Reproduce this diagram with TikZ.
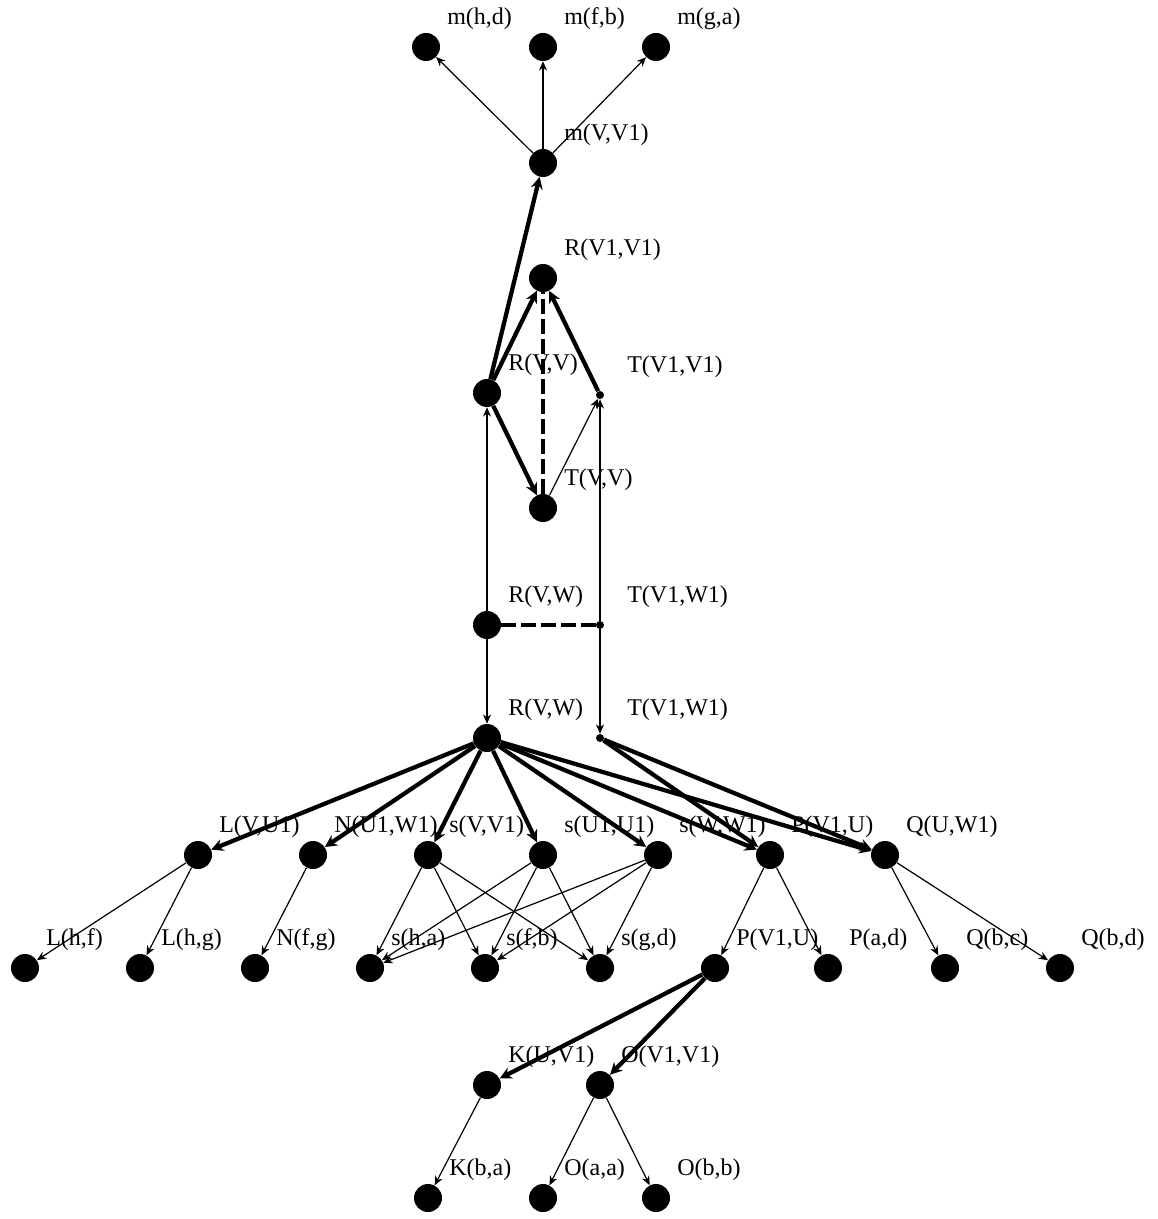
\documentclass[tikz,border=0pt]{standalone}
\usepackage{fontspec}
\setmainfont{Liberation Serif}
\usetikzlibrary{arrows.meta}
\newcommand{\lab}[2]{\node[lbl] (l#1) at ([shift={(21,-28)}]#1.center) {#2};}
\begin{document}
\begin{tikzpicture}[x=0.75pt,y=-0.75pt,
  dot/.style={circle,fill=black,inner sep=0pt,minimum size=21pt},
  pnt/.style={circle,fill=black,inner sep=0pt,minimum size=6pt},
  lbl/.style={anchor=west,inner sep=0pt,font=\fontsize{18}{20}\selectfont},
  tedge/.style={line width=0.9pt,-{Stealth[length=7pt,width=6pt]}},
  bedge/.style={line width=3.2pt,-{Stealth[length=9pt,width=9pt]}},
  dsh/.style={line width=3pt,dash pattern=on 11pt off 4pt}]
\useasboundingbox (0,0) rectangle (1157,1219);
% top
\node[dot] (mhd) at (426,47) {};
\node[dot] (mfb) at (543,47) {};
\node[dot] (mga) at (656,47) {};
\node[dot] (mVV) at (543,163) {};
\node[dot] (RV1) at (543,278) {};
\node[dot] (RVV) at (487,393) {};
\node[pnt] (TV1) at (600,395) {};
\node[dot] (TVV) at (543,508) {};
\node[dot] (RVWu) at (487,625) {};
\node[pnt] (TVWu) at (600,625) {};
\node[dot] (RVWl) at (487,738) {};
\node[pnt] (TVWl) at (600,738) {};
% row 2
\node[dot] (LVU) at (198,855) {};
\node[dot] (NUW) at (313,855) {};
\node[dot] (sVV) at (428,855) {};
\node[dot] (sUU) at (543,855) {};
\node[dot] (sWW) at (658,855) {};
\node[dot] (PVU) at (770,855) {};
\node[dot] (QUW) at (885,855) {};
% row 3
\node[dot] (Lhf) at (25,968) {};
\node[dot] (Lhg) at (140,968) {};
\node[dot] (Nfg) at (255,968) {};
\node[dot] (sha) at (370,968) {};
\node[dot] (sfb) at (485,968) {};
\node[dot] (sgd) at (600,968) {};
\node[dot] (PVUb) at (715,968) {};
\node[dot] (Pad) at (828,968) {};
\node[dot] (Qbc) at (945,968) {};
\node[dot] (Qbd) at (1060,968) {};
% row 4
\node[dot] (KUV) at (487,1085) {};
\node[dot] (OVV) at (600,1085) {};
% row 5
\node[dot] (Kba) at (428,1198) {};
\node[dot] (Oaa) at (543,1198) {};
\node[dot] (Obb) at (656,1198) {};
% labels
\lab{mhd}{m(h,d)}
\lab{mfb}{m(f,b)}
\lab{mga}{m(g,a)}
\lab{mVV}{m(V,V1)}
\lab{RV1}{R(V1,V1)}
\lab{RVV}{R(V,V)}
\node[lbl] (lTV1) at ([shift={(27,-28)}]TV1.center) {T(V1,V1)};
\lab{TVV}{T(V,V)}
\lab{RVWu}{R(V,W)}
\node[lbl] (lTVWu) at ([shift={(27,-28)}]TVWu.center) {T(V1,W1)};
\lab{RVWl}{R(V,W)}
\node[lbl] (lTVWl) at ([shift={(27,-28)}]TVWl.center) {T(V1,W1)};
\lab{LVU}{L(V,U1)}
\lab{NUW}{N(U1,W1)}
\lab{sVV}{s(V,V1)}
\lab{sUU}{s(U1,U1)}
\lab{sWW}{s(W,W1)}
\lab{PVU}{P(V1,U)}
\lab{QUW}{Q(U,W1)}
\lab{Lhf}{L(h,f)}
\lab{Lhg}{L(h,g)}
\lab{Nfg}{N(f,g)}
\lab{sha}{s(h,a)}
\lab{sfb}{s(f,b)}
\lab{sgd}{s(g,d)}
\lab{PVUb}{P(V1,U)}
\lab{Pad}{P(a,d)}
\lab{Qbc}{Q(b,c)}
\lab{Qbd}{Q(b,d)}
\lab{KUV}{K(U,V1)}
\lab{OVV}{O(V1,V1)}
\lab{Kba}{K(b,a)}
\lab{Oaa}{O(a,a)}
\lab{Obb}{O(b,b)}
% edges top
\draw[tedge] (mVV) -- (mhd);
\draw[tedge] (mVV) -- (mfb);
\draw[tedge] (mVV) -- (mga);
\draw[bedge] (RVV) -- (mVV);
\draw[bedge] (RVV) -- (RV1);
\draw[bedge] (TV1) -- (RV1);
\draw[bedge] (RVV) -- (TVV);
\draw[tedge] (TVV) -- (TV1);
\draw[dsh] (TVV) -- (RV1);
\draw[tedge] (RVWu) -- (RVV);
\draw[tedge] (TVWu) -- (TV1);
\draw[dsh] (RVWu) -- (TVWu);
\draw[tedge] (RVWu) -- (RVWl);
\draw[tedge] (TVWu) -- (TVWl);
% fan out
\foreach \t in {LVU,NUW,sVV,sUU,sWW,PVU,QUW}
  \draw[bedge] (RVWl) -- (\t);
\draw[bedge] (TVWl) -- (PVU);
\draw[bedge] (TVWl) -- (QUW);
% row 2 -> row 3
\draw[tedge] (LVU) -- (Lhf);
\draw[tedge] (LVU) -- (Lhg);
\draw[tedge] (NUW) -- (Nfg);
\foreach \s in {sVV,sUU,sWW}
  \foreach \t in {sha,sfb,sgd}
    \draw[tedge] (\s) -- (\t);
\draw[tedge] (PVU) -- (PVUb);
\draw[tedge] (PVU) -- (Pad);
\draw[tedge] (QUW) -- (Qbc);
\draw[tedge] (QUW) -- (Qbd);
% lower
\draw[bedge] (PVUb) -- (KUV);
\draw[bedge] (PVUb) -- (OVV);
\draw[tedge] (KUV) -- (Kba);
\draw[tedge] (OVV) -- (Oaa);
\draw[tedge] (OVV) -- (Obb);
\end{tikzpicture}
\end{document}
